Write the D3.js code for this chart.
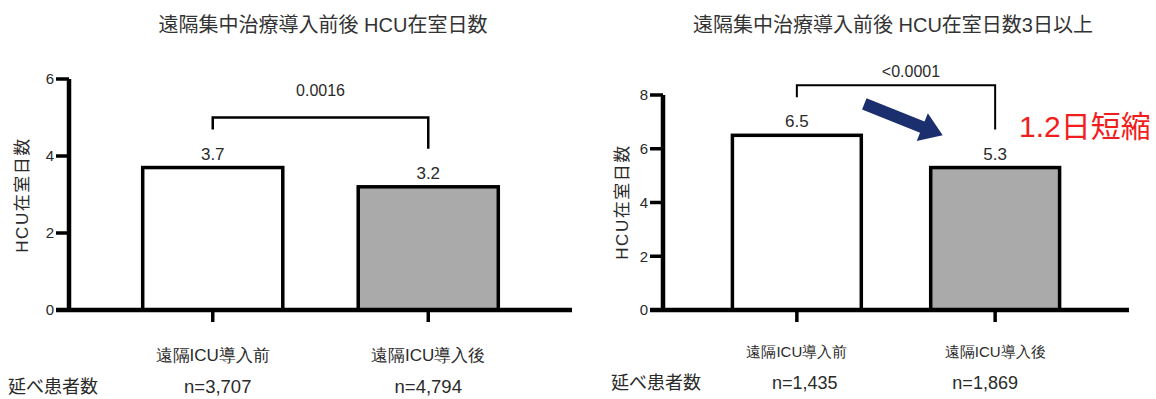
<!DOCTYPE html>
<html lang="ja">
<head>
<meta charset="utf-8">
<script src="https://cdn.jsdelivr.net/npm/d3@7"></script>
<style>
  html, body { margin: 0; padding: 0; background: #fff; }
  svg { display: block; font-family: "Liberation Sans", Arial, "Noto Sans CJK JP", sans-serif; }
</style>
</head>
<body>
<svg id="chart" width="1156" height="399"></svg>
<script>
// ---- data ----
const categories = ["遠隔ICU導入前", "遠隔ICU導入後"];
const staysAll = [3.7, 3.2];          // HCU在室日数
const staysLong = [6.5, 5.3];         // HCU在室日数3日以上
const ticksAll = [0, 2, 4, 6];
const ticksLong = [0, 2, 4, 6, 8];
const countsAll = ["n=3,707", "n=4,794"];
const countsLong = ["n=1,435", "n=1,869"];
const pAll = "0.0016";
const pLong = "<0.0001";
const titleAll = "遠隔集中治療導入前後 HCU在室日数";
const titleLong = "遠隔集中治療導入前後 HCU在室日数3日以上";
const yLabel = "HCU在室日数";
const countLabel = "延べ患者数";
const reductionLabel = "1.2日短縮";

const fills = ["#ffffff", "#aaaaaa"];
const ink = "#2a2a2a";
const svg = d3.select("#chart");

function panel(cfg) {
  const g = svg.append("g");
  const x = d3.scaleBand().domain(categories).range(cfg.xRange)
    .paddingInner(cfg.padIn).paddingOuter(cfg.padOut);
  const y = d3.scaleLinear().domain([0, d3.max(cfg.ticks)]).range(cfg.yRange);
  const bw = x.bandwidth();
  const cx = d => x(d) + bw / 2;
  const x0 = cfg.xRange[0];

  // title
  g.append("text").attr("x", cfg.titleX).attr("y", 25).attr("dy", "0.35em")
    .attr("text-anchor", "middle").style("font-size", "20px").style("fill", "#333").text(cfg.title);

  // bars
  g.selectAll("rect.bar").data(cfg.values).join("rect")
    .attr("class", "bar")
    .attr("x", (d, i) => x(categories[i]))
    .attr("y", d => y(d))
    .attr("width", bw)
    .attr("height", d => y(0) - y(d))
    .attr("fill", (d, i) => fills[i])
    .attr("stroke", "#000").attr("stroke-width", 3.5);

  // y axis: tick labels from the axis generator, heavy lines drawn on top
  const ya = g.append("g").attr("transform", `translate(${x0},0)`)
    .call(d3.axisLeft(y).tickValues(cfg.ticks).tickFormat(d3.format("d"))
      .tickSize(13).tickSizeOuter(0).tickPadding(2));
  ya.select("path.domain").remove();
  ya.selectAll(".tick line").remove();
  ya.selectAll(".tick text").style("font-size", "15px").attr("fill", ink);

  // x axis
  const xa = g.append("g").attr("transform", `translate(0,${y(0)})`)
    .call(d3.axisBottom(x).tickSize(12).tickSizeOuter(0).tickPadding(cfg.catPad));
  xa.select("path.domain").remove();
  xa.selectAll(".tick line").remove();
  xa.selectAll(".tick text").style("font-size", cfg.catSize + "px").attr("fill", ink);

  const lines = g.append("g").attr("stroke", "#000").attr("fill", "none");
  lines.append("line").attr("x1", x0).attr("x2", x0)
    .attr("y1", y(0)).attr("y2", y(d3.max(cfg.ticks))).attr("stroke-width", 4.5);
  lines.selectAll("line.yt").data(cfg.ticks).join("line").attr("class", "yt")
    .attr("x1", x0 - 13).attr("x2", x0).attr("y1", d => y(d)).attr("y2", d => y(d))
    .attr("stroke-width", 3.5);
  lines.append("line").attr("x1", x0 - 13).attr("x2", cfg.xRange[1])
    .attr("y1", y(0)).attr("y2", y(0)).attr("stroke-width", 4.5);
  lines.selectAll("line.xt").data(categories).join("line").attr("class", "xt")
    .attr("x1", d => cx(d)).attr("x2", d => cx(d)).attr("y1", y(0)).attr("y2", y(0) + 12)
    .attr("stroke-width", 3.5);

  // y axis label
  g.append("text")
    .attr("transform", `translate(${cfg.yLabelX},${cfg.yLabelY}) rotate(-90)`)
    .attr("text-anchor", "middle").attr("dy", "0.35em").attr("fill", ink)
    .style("font-size", "17px").style("letter-spacing", "1.5px").text(yLabel);

  // value labels
  g.selectAll("text.val").data(cfg.values).join("text")
    .attr("class", "val")
    .attr("x", (d, i) => cx(categories[i]))
    .attr("y", d => y(d) - 14).attr("dy", "0.35em").attr("fill", ink)
    .attr("text-anchor", "middle").style("font-size", "17px")
    .text(d => d3.format(".1f")(d));

  // significance bracket
  const legs = cfg.values.map(v => y(v) - 38);
  const top = d3.min(legs) - 12;
  const c0 = cx(categories[0]), c1 = cx(categories[1]);
  g.append("path")
    .attr("d", `M${c0},${legs[0]}V${top}H${c1}V${legs[1]}`)
    .attr("fill", "none").attr("stroke", "#000").attr("stroke-width", cfg.bracketW);
  g.append("text").attr("x", (c0 + c1) / 2 + cfg.pDx).attr("y", top - cfg.pGap).attr("dy", "0.35em")
    .attr("text-anchor", "middle").attr("fill", ink).style("font-size", "16px").text(cfg.p);

  // patient counts
  g.append("text").attr("x", cfg.countLabelX).attr("y", cfg.countY).attr("dy", "0.35em")
    .attr("fill", ink).style("font-size", "18px").text(countLabel);
  g.selectAll("text.cnt").data(cfg.counts).join("text")
    .attr("class", "cnt")
    .attr("x", (d, i) => cx(categories[i]) + cfg.countDx[i])
    .attr("y", cfg.countY).attr("dy", "0.35em").attr("fill", ink)
    .attr("text-anchor", "middle").style("font-size", cfg.countSize + "px")
    .text(d => d);

  return { x, y, bw };
}

panel({
  title: titleAll, titleX: 323, values: staysAll, ticks: ticksAll, counts: countsAll, p: pAll,
  xRange: [69, 572], yRange: [310, 79], padIn: 0.35, padOut: 0.342,
  catPad: 27, catSize: 17, yLabelX: 22, yLabelY: 195,
  bracketW: 2.5, pGap: 27, pDx: 0,
  countLabelX: 8, countY: 387, countDx: [5, 0], countSize: 18.5
});

const right = panel({
  title: titleLong, titleX: 893, values: staysLong, ticks: ticksLong, counts: countsLong, p: pLong,
  xRange: [663, 1129], yRange: [310, 95], padIn: 0.35, padOut: 0.35,
  catPad: 24, catSize: 15, yLabelX: 622, yLabelY: 202,
  bracketW: 2, pGap: 14, pDx: 15,
  countLabelX: 611, countY: 383, countDx: [8, -10], countSize: 18
});

// reduction arrow between the two bars of the right panel
{
  const { x, y, bw } = right;
  const tail = [x(categories[0]) + bw + 3, y(7.67)];
  const tip = [x(categories[1]) + 12, y(staysLong[0])];
  const dx = tip[0] - tail[0], dy = tip[1] - tail[1];
  const len = Math.hypot(dx, dy);
  const ang = Math.atan2(dy, dx) * 180 / Math.PI;
  const shaft = 6, head = 15, headLen = 22;
  const pts = [[0, -shaft], [len - headLen, -shaft], [len - headLen, -head], [len, 0],
               [len - headLen, head], [len - headLen, shaft], [0, shaft]];
  svg.append("polygon")
    .attr("points", pts.map(p => p.join(",")).join(" "))
    .attr("transform", `translate(${tail[0]},${tail[1]}) rotate(${ang})`)
    .attr("fill", "#1b2f6e");

  svg.append("text").attr("x", 1019).attr("y", 137)
    .style("font-size", "30px").attr("fill", "#f21d1d")
    .text(reductionLabel);
}
</script>
</body>
</html>
